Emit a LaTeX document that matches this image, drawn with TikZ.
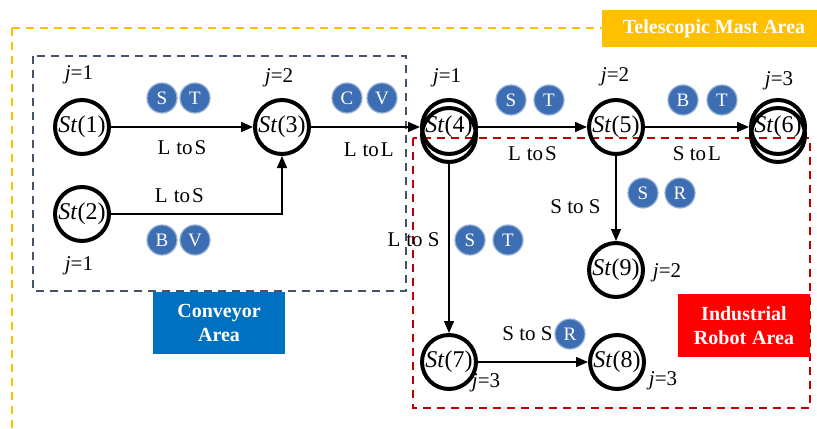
\documentclass[tikz,border=0pt]{standalone}
\usepackage{fontspec}
\setmainfont{Liberation Serif}
\usepackage{tikz}
\usetikzlibrary{arrows.meta,positioning,calc}
\definecolor{mastgold}{HTML}{FFC000}
\definecolor{convblue}{HTML}{0070C0}
\definecolor{convline}{HTML}{44546A}
\definecolor{robotred}{HTML}{FF0000}
\definecolor{robotline}{HTML}{C00000}
\definecolor{badgeblue}{HTML}{3D6DB2}

\begin{document}
\begin{tikzpicture}[x=0.5pt, y=-0.5pt,
    station/.style={draw, circle, line width=2pt, minimum size=27pt, inner sep=0pt, font=\fontsize{12}{13}\selectfont},
    badge/.style={circle, fill=badgeblue, draw=badgeblue!55!white, line width=0.6pt, minimum size=15pt, inner sep=0pt, text=white, font=\fontsize{9.5}{10}\selectfont},
    jlabel/.style={font=\fontsize{10.5}{12}\selectfont},
    elabel/.style={font=\fontsize{10.5}{12}\selectfont},
    area/.style={line width=0.6pt, dash pattern=on 4pt off 3pt},
    tag/.style={font=\bfseries\fontsize{10}{12}\selectfont, text=white, align=center, inner sep=0pt},
    arrow/.style={-{Triangle[length=6pt,width=5pt]}, line width=0.7pt}
]
    \clip (0,0) rectangle (817,428);
    \fill[white] (0,0) rectangle (817,428);

    % Areas
    \draw[area, mastgold] (12,28) rectangle (840,450);
    \draw[area, convline] (33,56) rectangle (406,291);
    \draw[area, robotline] (413,138) rectangle (810,408);

    \fill[mastgold] (602,10) rectangle (817,47);
    \node[tag] (mast) at (714,28.5) {Telescopic Mast Area};
    \fill[convblue] (153,292) rectangle (285,354);
    \node[tag] (conv) at (219,323) {Conveyor\\Area};
    \fill[robotred] (678,294) rectangle (810,357);
    \node[tag] (robot) at (744,325.5) {Industrial\\Robot\hspace{3pt}Area};

    % Stations
    \node[station] (st1) at (82,127) {\textit{St}(1)};
    \node[station] (st2) at (82,214) {\textit{St}(2)};
    \node[station] (st3) at (282,127) {\textit{St}(3)};
    \node[station] (st4b) at (449,135) {};
    \node[station] (st4) at (449,127) {\textit{St}(4)};
    \node[station] (st5) at (616,127) {\textit{St}(5)};
    \node[station] (st6b) at (778,135) {};
    \node[station] (st6) at (778,127) {\textit{St}(6)};
    \node[station] (st9) at (616,270) {\textit{St}(9)};
    \node[station] (st7) at (449,362) {\textit{St}(7)};
    \node[station] (st8) at (617,362) {\textit{St}(8)};

    % Stage indices
    \node[jlabel] (j1) at (79,75) {\textit{j}=1};
    \node[jlabel] (j2) at (79,266) {\textit{j}=1};
    \node[jlabel] (j3) at (279,78) {\textit{j}=2};
    \node[jlabel] (j4) at (447,78) {\textit{j}=1};
    \node[jlabel] (j5) at (615,77) {\textit{j}=2};
    \node[jlabel] (j6) at (779,81) {\textit{j}=3};
    \node[jlabel] (j9) at (667,273) {\textit{j}=2};
    \node[jlabel] (j7) at (486,383) {\textit{j}=3};
    \node[jlabel] (j8) at (663,381) {\textit{j}=3};

    % Transfers
    \draw[arrow] (st1) -- node[elabel, below=3pt] {L\hspace{3pt}to\hspace{1pt}S} (st3);
    \draw[arrow] (st2) -| node[elabel, above=2pt, pos=0.2] {L\hspace{3pt}to\hspace{1pt}S} (st3);
    \draw[arrow] (st3) -- node[elabel, below=4pt, pos=0.53] {L\hspace{3pt}to\hspace{1pt}L} (st4);
    \draw[arrow] (st4) -- node[elabel, below=6pt] {L\hspace{3pt}to\hspace{1pt}S} (st5);
    \draw[arrow] (st5) -- node[elabel, below=6pt] {S to\hspace{1pt}L} (st6);
    \draw[arrow] (st5) -- node[elabel, left=4pt, pos=0.6] {S to S} (st9);
    \draw[arrow] (st4b) -- node[elabel, left=1pt, pos=0.45] {L\hspace{3pt}to S} (st7);
    \draw[arrow] (st7) -- node[elabel, above=7pt, pos=0.45] {S to S} (st8);

    % Resources on each transfer
    \node[badge] (b1s) at (162,98) {S};
    \node[badge] (b1t) at (195,98) {T};
    \node[badge] (b2b) at (162,240) {B};
    \node[badge] (b2v) at (195,240) {V};
    \node[badge] (b3c) at (347,98) {C};
    \node[badge] (b3v) at (382,98) {V};
    \node[badge] (b4s) at (511,100) {S};
    \node[badge] (b4t) at (549,100) {T};
    \node[badge] (b5b) at (683,100) {B};
    \node[badge] (b5t) at (722,100) {T};
    \node[badge] (b9s) at (643,193) {S};
    \node[badge] (b9r) at (680,193) {R};
    \node[badge] (b7s) at (470,240) {S};
    \node[badge] (b7t) at (508,240) {T};
    \node[badge] (b8r) at (570,334) {R};
\end{tikzpicture}
\end{document}
